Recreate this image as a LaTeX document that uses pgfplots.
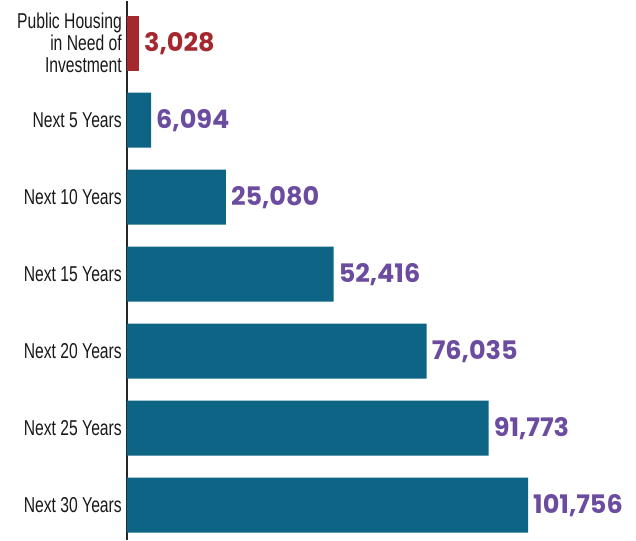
\documentclass[border=0pt]{standalone}
\usepackage{pgfplots}
\pgfplotsset{compat=1.18}
\usepackage{fontspec}
\setmainfont[FakeStretch=0.73]{Liberation Sans}
\newfontfamily\valfont{Poppins}
\definecolor{barteal}{HTML}{0D6485}
\definecolor{barred}{HTML}{A6282F}
\definecolor{valpurple}{HTML}{6B4C9F}
\begin{document}
\begin{tikzpicture}
\begin{axis}[
  scale only axis,
  width=509pt, height=539pt,
  xbar, bar width=0.714,
  xmin=0, xmax=129163,
  ymin=-0.55, ymax=6.45,
  y dir=reverse,
  hide x axis,
  axis y line=left,
  y axis line style={draw=black!85, line width=1.6pt, -},
  ytick={0,...,6},
  major tick length=0pt,
  yticklabels={{Public Housing\\in Need of\\Investment},{Next 5 Years},{Next 10 Years},{Next 15 Years},{Next 20 Years},{Next 25 Years},{Next 30 Years}},
  yticklabel style={align=right, font=\fontsize{21.5}{22}\selectfont, text=black!90, inner sep=0pt, xshift=-5pt},
  clip=false,
  nodes near coords,
  every node near coord/.append style={anchor=west, xshift=4pt, inner sep=1pt, font=\valfont\bfseries\fontsize{25.5}{27}\selectfont},
  point meta=explicit symbolic,
]
\addplot[fill=barred, draw=none, bar shift=0pt, every node near coord/.append style={text=barred}] coordinates {(3028,0) [3,028]};
\addplot[fill=barteal, draw=none, bar shift=0pt, every node near coord/.append style={text=valpurple}] coordinates {
 (6094,1) [6,094]
 (25080,2) [25,080]
 (52416,3) [52,416]
 (76035,4) [76,035]
 (91773,5) [91,773]
 (101756,6) [101,756]
};
\end{axis}
\path ([xshift=-127pt]current axis.south west) rectangle (current axis.north east);
\end{tikzpicture}
\end{document}
